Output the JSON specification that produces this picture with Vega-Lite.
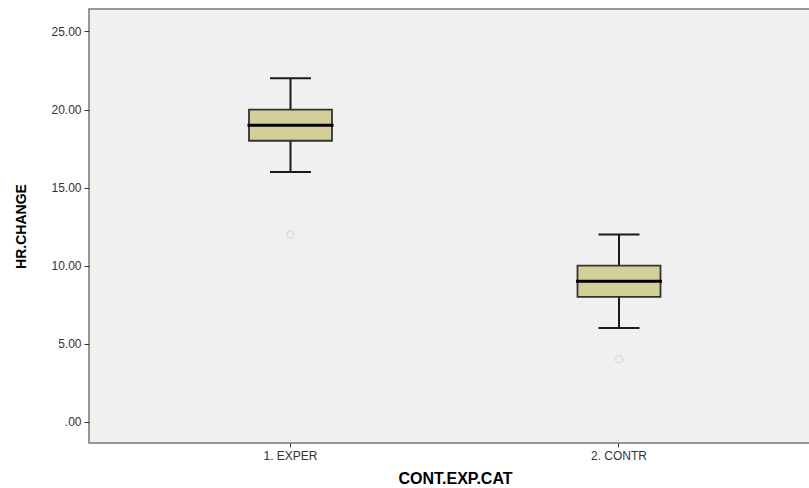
{
  "$schema": "https://vega.github.io/schema/vega-lite/v6.json",
  "autosize": "none",
  "padding": {"left": 89, "top": 9, "right": -2, "bottom": 45},
  "width": 722,
  "height": 434,
  "background": "white",
  "config": {
    "view": {"fill": "#f0f0f0", "stroke": "#777777", "strokeWidth": 1.5},
    "font": "Liberation Sans"
  },
  "data": {
    "values": [
      {"group": "1. EXPER", "hr": 12},
      {"group": "1. EXPER", "hr": 16},
      {"group": "1. EXPER", "hr": 18},
      {"group": "1. EXPER", "hr": 18},
      {"group": "1. EXPER", "hr": 18},
      {"group": "1. EXPER", "hr": 19},
      {"group": "1. EXPER", "hr": 19},
      {"group": "1. EXPER", "hr": 19},
      {"group": "1. EXPER", "hr": 20},
      {"group": "1. EXPER", "hr": 20},
      {"group": "1. EXPER", "hr": 20},
      {"group": "1. EXPER", "hr": 22},
      {"group": "2. CONTR", "hr": 4},
      {"group": "2. CONTR", "hr": 6},
      {"group": "2. CONTR", "hr": 8},
      {"group": "2. CONTR", "hr": 8},
      {"group": "2. CONTR", "hr": 8},
      {"group": "2. CONTR", "hr": 9},
      {"group": "2. CONTR", "hr": 9},
      {"group": "2. CONTR", "hr": 9},
      {"group": "2. CONTR", "hr": 10},
      {"group": "2. CONTR", "hr": 10},
      {"group": "2. CONTR", "hr": 10},
      {"group": "2. CONTR", "hr": 12}
    ]
  },
  "mark": {
    "type": "boxplot",
    "extent": 1.5,
    "size": 83,
    "box": {"fill": "#d4cf98", "stroke": "#333333", "strokeWidth": 1.8},
    "median": {"color": "#000000", "thickness": 3, "size": 86, "opacity": 1},
    "rule": {"color": "#1a1a1a", "strokeWidth": 2},
    "ticks": {"color": "#1a1a1a", "size": 41, "thickness": 2, "opacity": 1},
    "outliers": {"color": "#d6d6d6", "filled": false, "size": 50, "strokeWidth": 1.5}
  },
  "encoding": {
    "x": {
      "field": "group",
      "type": "nominal",
      "sort": ["1. EXPER", "2. CONTR"],
      "scale": {"paddingInner": 0.5, "paddingOuter": 0.3459, "align": 0.5253, "round": false, "range": [0, 720]},
      "axis": {
        "title": "CONT.EXP.CAT",
        "titleFont": "Liberation Sans",
        "titleFontSize": 16,
        "titleFontWeight": "bold",
        "titleColor": "#000000",
        "titlePadding": 9,
        "titleX": 366,
        "labelAngle": 0,
        "labelFontSize": 12,
        "labelColor": "#333333",
        "labelPadding": 3,
        "tickSize": 4,
        "tickColor": "#333333",
        "domain": false,
        "grid": false
      }
    },
    "y": {
      "field": "hr",
      "type": "quantitative",
      "scale": {"domain": [-1.36, 26.44], "nice": false, "zero": false},
      "axis": {
        "title": "HR.CHANGE",
        "titleFont": "Liberation Sans",
        "titleFontSize": 14,
        "titleFontWeight": "bold",
        "titleColor": "#000000",
        "titlePadding": 22,
        "values": [0, 5, 10, 15, 20, 25],
        "labelExpr": "datum.value == 0 ? '.00' : format(datum.value, '.2f')",
        "labelFontSize": 12,
        "labelColor": "#333333",
        "labelPadding": 3,
        "tickSize": 5,
        "tickColor": "#333333",
        "domain": false,
        "grid": false
      }
    }
  }
}
